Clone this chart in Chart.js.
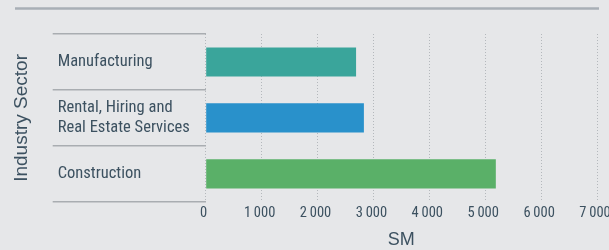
<!DOCTYPE html>
<html>
<head>
<meta charset="utf-8">
<script src="https://cdn.jsdelivr.net/npm/chart.js@4/dist/chart.umd.min.js"></script>
<style>
  html, body { margin: 0; padding: 0; background: #e6e7e9; }
  canvas { display: block; }
</style>
</head>
<body>
<canvas id="c" width="609" height="250"></canvas>
<script>
// ---- data ----
const categories = [
  'Manufacturing',
  ['Rental, Hiring and', 'Real Estate Services'],
  'Construction'
];
const values = [2690, 2830, 5190];
const barColors = ['#3aa59b', '#2991cb', '#5ab068'];
const xTickLabels = ['0', '1\u2009000', '2\u2009000', '3\u2009000', '4\u2009000', '5\u2009000', '6\u2009000', '7\u2009000'];
const xTitle = 'SM';
const yTitle = 'Industry Sector';

const textColor = '#3c5160';
const narrow = "'Liberation Sans Narrow', 'Roboto Condensed', 'DejaVu Sans Condensed', sans-serif";

const decor = {
  id: 'decor',
  beforeDraw(chart) {
    const ctx = chart.ctx;
    ctx.save();
    ctx.fillStyle = '#e6e7e9';
    ctx.fillRect(0, 0, chart.width, chart.height);
    ctx.strokeStyle = '#a8afb6';
    ctx.lineWidth = 2.5;
    ctx.beginPath();
    ctx.moveTo(15, 8.5);
    ctx.lineTo(chart.width - 10, 8.5);
    ctx.stroke();
    ctx.restore();
  }
};

new Chart(document.getElementById('c'), {
  type: 'bar',
  data: {
    labels: categories,
    datasets: [{
      data: values,
      backgroundColor: barColors,
      borderWidth: 0,
      barPercentage: 1,
      categoryPercentage: 0.52
    }]
  },
  options: {
    indexAxis: 'y',
    responsive: false,
    animation: false,
    devicePixelRatio: 1,
    layout: { padding: { top: 34, left: 0, right: 12, bottom: 0 } },
    plugins: { legend: { display: false }, tooltip: { enabled: false } },
    scales: {
      x: {
        min: 0, max: 7000,
        border: { display: false, dash: [1, 2] },
        grid: {
          color: '#b4b8bc',
          lineWidth: 1,
          drawTicks: false
        },
        ticks: {
          stepSize: 1000,
          padding: 3,
          labelOffset: -2,
          color: textColor,
          font: { family: narrow, size: 14.5 },
          maxRotation: 0,
          autoSkip: false,
          callback: (v, i) => xTickLabels[i]
        },
        title: {
          display: true,
          text: xTitle,
          color: textColor,
          font: { family: "'Liberation Sans', Arial, sans-serif", size: 18, lineHeight: 1.1 },
          padding: { top: 5, bottom: 0 }
        },
        afterFit(scale) { scale.paddingRight = 12; }
      },
      y: {
        border: { display: false },
        grid: {
          offset: true,
          drawOnChartArea: false,
          drawTicks: true,
          tickLength: 153,
          color: '#a9adb1',
          lineWidth: 1.5
        },
        ticks: {
          mirror: true,
          padding: -148,
          autoSkip: false,
          color: textColor,
          font: { family: narrow, size: 16.5 },
          crossAlign: 'near'
        },
        title: {
          display: true,
          text: yTitle,
          color: textColor,
          font: { family: "'Liberation Sans', Arial, sans-serif", size: 19 },
          padding: { top: 10, bottom: 0 }
        },
        afterFit(scale) { scale.width = 205.7; }
      }
    }
  },
  plugins: [decor]
});
</script>
</body>
</html>
